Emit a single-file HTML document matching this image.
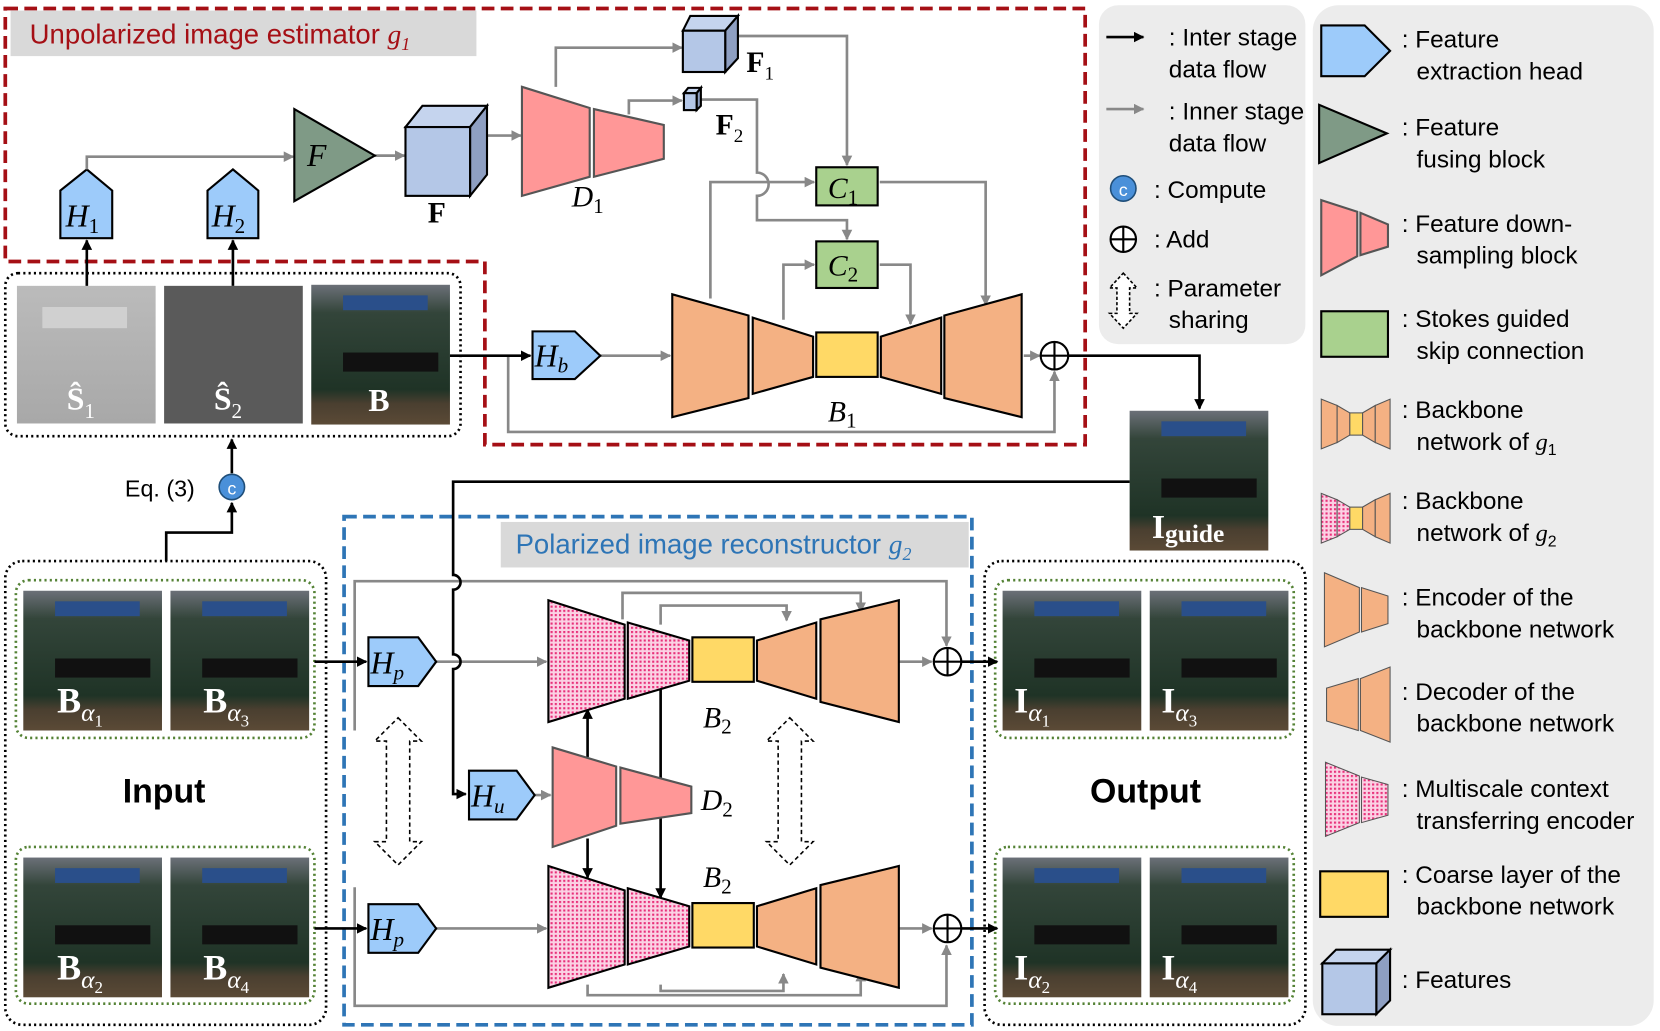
<!DOCTYPE html>
<html><head><meta charset="utf-8"><style>
html,body{margin:0;padding:0;background:#fff;}
svg{display:block;}
.t{font-family:"Liberation Sans",sans-serif;}
.m{font-family:"Liberation Serif",serif;font-style:italic;}
.b{font-family:"Liberation Serif",serif;font-weight:bold;}
</style></head><body>
<svg width="1660" height="1031" viewBox="0 0 1660 1031" xmlns="http://www.w3.org/2000/svg">
<defs>
<marker id="ak" markerWidth="10" markerHeight="10" refX="9" refY="5" orient="auto" markerUnits="userSpaceOnUse"><path d="M0,0 L10,5 L0,10 z" fill="#000"/></marker>
<marker id="ag" markerWidth="10" markerHeight="10" refX="9" refY="5" orient="auto" markerUnits="userSpaceOnUse"><path d="M0,0 L10,5 L0,10 z" fill="#888"/></marker>
<pattern id="dots" width="4" height="4" patternUnits="userSpaceOnUse"><rect width="4" height="4" fill="#fbd2e4"/><rect width="2" height="2" fill="#e8307a"/></pattern>
<linearGradient id="scene" x1="0" y1="0" x2="0" y2="1">
<stop offset="0" stop-color="#6b7078"/><stop offset="0.2" stop-color="#33453a"/><stop offset="0.75" stop-color="#1f3326"/><stop offset="0.85" stop-color="#4a3f30"/><stop offset="1" stop-color="#5b4a36"/></linearGradient>
<linearGradient id="s1" x1="0" y1="0" x2="0" y2="1"><stop offset="0" stop-color="#bbb"/><stop offset="1" stop-color="#a8a8a8"/></linearGradient>
<g id="photo"><rect width="131" height="132" fill="url(#scene)"/><rect x="30" y="10" width="80" height="14" fill="#2a4f8a"/><rect x="30" y="64" width="90" height="18" fill="#111"/></g>
</defs>
<g transform="scale(1.0587)">

<!-- legend backgrounds -->
<rect x="1038" y="5" width="195" height="320" rx="18" fill="#ececec"/>
<rect x="1240" y="5" width="322" height="964" rx="24" fill="#ececec"/>

<!-- g1 red dashed box -->
<path d="M5,8 H1025 V420 H458 V247 H5 Z" fill="none" stroke="#a50f15" stroke-width="3.5" stroke-dasharray="12,6"/>
<rect x="10" y="10" width="440" height="43" fill="#d9d9d9"/>
<text x="28" y="41" class="t" font-size="26" fill="#a50f15">Unpolarized image estimator <tspan class="m">g</tspan><tspan class="m" font-size="17" dy="6">1</tspan></text>

<!-- photos top -->
<rect x="5" y="258" width="430" height="154" rx="12" fill="none" stroke="#000" stroke-width="2.5" stroke-dasharray="2,3"/>
<rect x="16" y="270" width="131" height="130" fill="url(#s1)"/>
<rect x="40" y="290" width="80" height="20" fill="#d0d0d0"/>
<rect x="155" y="270" width="131" height="130" fill="#5a5a5a"/>
<use href="#photo" x="294" y="269"/>
<text x="63" y="387" class="b" font-size="30" fill="#fff">Ŝ<tspan font-size="20" dy="8" font-weight="normal">1</tspan></text>
<text x="202" y="387" class="b" font-size="30" fill="#fff">Ŝ<tspan font-size="20" dy="8" font-weight="normal">2</tspan></text>
<text x="348" y="388" class="b" font-size="30" fill="#fff">B</text>

<!-- H1 H2 -->
<g stroke="#000" stroke-width="2" fill="#9dcbfa">
<polygon points="57,225 57,180 82,160 106,180 106,225"/>
<polygon points="196,225 196,180 220,160 244,180 244,225"/>
</g>
<text x="62" y="214" class="m" font-size="30">H<tspan font-size="20" dy="6" font-style="normal">1</tspan></text>
<text x="200" y="214" class="m" font-size="30">H<tspan font-size="20" dy="6" font-style="normal">2</tspan></text>
<g stroke="#000" stroke-width="2.5" marker-end="url(#ak)"><line x1="82" y1="270" x2="82" y2="227"/><line x1="220" y1="270" x2="220" y2="227"/></g>

<!-- gray flows top -->
<g stroke="#888" stroke-width="2.5" fill="none" marker-end="url(#ag)">
<path d="M82,160 V148 H277"/>
<path d="M354,147 H382"/>
<path d="M460,128 H492"/>
<path d="M525,82 V45 H644"/>
<path d="M594,108 V95 H644"/>
<path d="M567,336 H633"/>
<path d="M967,336 H982"/>
<path d="M480,336 V408 H996 V351"/>
<path d="M685,34 H800 V156"/>
<path d="M662,94 H715 V163 A7,7 0 0 1 715,185 V208 H800 V226"/>
<path d="M671,282 V172 H769"/>
<path d="M740,302 V250 H769"/>
<path d="M831,172 H931 V288"/>
<path d="M831,250 H860 V306"/>
</g>
<polygon points="278,103 278,190 354,147" fill="#7f9a86" stroke="#000" stroke-width="2"/>
<text x="290" y="157" class="m" font-size="30">F</text>
<g stroke="#000" stroke-width="2">
<polygon points="383,120 399,100 460,100 444,120" fill="#c5d4ee"/>
<polygon points="444,120 460,100 460,165 444,185" fill="#8e9fc2"/>
<rect x="383" y="120" width="61" height="65" fill="#b4c7e7"/>
</g>
<text x="404" y="210" class="b" font-size="28">F</text>
<g stroke="#555" stroke-width="2" fill="#ff9797">
<polygon points="493,82 557,102 557,167 493,185"/>
<polygon points="561,103 627,118 627,150 561,167"/>
</g>
<text x="540" y="195" class="m" font-size="28">D<tspan font-size="20" dy="6" font-style="normal">1</tspan></text>
<g stroke="#000" stroke-width="2">
<polygon points="645,29 652,15 697,15 685,29" fill="#c5d4ee"/>
<polygon points="685,29 697,15 697,55 685,68" fill="#8e9fc2"/>
<rect x="645" y="29" width="40" height="39" fill="#b4c7e7"/>
<polygon points="646,88 650,83 662,83 658,88" fill="#c5d4ee"/>
<polygon points="658,88 662,83 662,100 658,104" fill="#8e9fc2"/>
<rect x="646" y="88" width="12" height="16" fill="#b4c7e7"/>
</g>
<text x="705" y="68" class="b" font-size="28">F<tspan font-size="18" dy="7" font-weight="normal">1</tspan></text>
<text x="676" y="127" class="b" font-size="28">F<tspan font-size="18" dy="7" font-weight="normal">2</tspan></text>
<g stroke="#000" stroke-width="2" fill="#a9d18e">
<rect x="771" y="158" width="58" height="36"/>
<rect x="771" y="228" width="58" height="44"/>
</g>
<text x="782" y="187" class="m" font-size="28">C<tspan font-size="20" dy="6" font-style="normal">1</tspan></text>
<text x="782" y="260" class="m" font-size="28">C<tspan font-size="20" dy="6" font-style="normal">2</tspan></text>
<g stroke="#000" stroke-width="2" fill="#f4b183">
<polygon points="635,278 707,298 707,376 635,394"/>
<polygon points="711,300 768,318 768,356 711,372"/>
<polygon points="832,318 889,300 889,372 832,356"/>
<polygon points="892,298 965,278 965,394 892,376"/>
<rect x="771" y="314" width="58" height="42" fill="#ffd966"/>
</g>
<text x="782" y="398" class="m" font-size="28">B<tspan font-size="20" dy="6" font-style="normal">1</tspan></text>
<polygon points="503,313 543,313 567,336 543,358 503,358" fill="#9dcbfa" stroke="#000" stroke-width="2"/>
<text x="505" y="346" class="m" font-size="30">H<tspan font-size="20" dy="6">b</tspan></text>
<line x1="425" y1="336" x2="501" y2="336" stroke="#000" stroke-width="2.5" marker-end="url(#ak)"/>
<circle cx="996" cy="336" r="13" fill="#fff" stroke="#000" stroke-width="2"/>
<path d="M983,336 H1009 M996,323 V349" stroke="#000" stroke-width="2"/>
<path d="M1009,336 H1133 V386" stroke="#000" stroke-width="2.5" fill="none" marker-end="url(#ak)"/>
<use href="#photo" x="1067" y="388"/>
<text x="1088" y="508" class="b" font-size="32" fill="#fff">I<tspan font-size="24" dy="4">guide</tspan></text>

<!-- legend 1 -->
<g class="t" font-size="23" fill="#000">
<text x="1104" y="43">: Inter stage</text><text x="1104" y="73">data flow</text>
<text x="1104" y="113">: Inner stage</text><text x="1104" y="143">data flow</text>
<text x="1090" y="187">: Compute</text>
<text x="1090" y="234">: Add</text>
<text x="1090" y="280">: Parameter</text><text x="1104" y="310">sharing</text>
</g>
<line x1="1045" y1="35" x2="1080" y2="35" stroke="#000" stroke-width="2.5" marker-end="url(#ak)"/>
<line x1="1045" y1="103" x2="1080" y2="103" stroke="#888" stroke-width="2.5" marker-end="url(#ag)"/>
<circle cx="1061" cy="178" r="12" fill="#4a90d9" stroke="#1f4e79" stroke-width="1.5"/>
<text x="1061" y="185" class="t" font-size="17" fill="#fff" text-anchor="middle">c</text>
<circle cx="1061" cy="226" r="12" fill="#fff" stroke="#000" stroke-width="2"/>
<path d="M1049,226 H1073 M1061,214 V238" stroke="#000" stroke-width="2"/>
<path d="M1061,258 L1074,272 H1067 V296 H1074 L1061,310 L1048,296 H1055 V272 H1048 Z" fill="#fff" stroke="#000" stroke-width="1.5" stroke-dasharray="3,2"/>

<!-- legend 2 -->
<g class="t" font-size="23" fill="#000">
<text x="1324" y="45">: Feature</text><text x="1338" y="75">extraction head</text>
<text x="1324" y="128">: Feature</text><text x="1338" y="158">fusing block</text>
<text x="1324" y="219">: Feature down-</text><text x="1338" y="249">sampling block</text>
<text x="1324" y="309">: Stokes guided</text><text x="1338" y="339">skip connection</text>
<text x="1324" y="395">: Backbone</text><text x="1338" y="425">network of <tspan class="m">g</tspan><tspan font-size="15" dy="5">1</tspan></text>
<text x="1324" y="481">: Backbone</text><text x="1338" y="511">network of <tspan class="m">g</tspan><tspan font-size="15" dy="5">2</tspan></text>
<text x="1324" y="572">: Encoder of the</text><text x="1338" y="602">backbone network</text>
<text x="1324" y="661">: Decoder of the</text><text x="1338" y="691">backbone network</text>
<text x="1324" y="753">: Multiscale context</text><text x="1338" y="783">transferring encoder</text>
<text x="1324" y="834">: Coarse layer of the</text><text x="1338" y="864">backbone network</text>
<text x="1324" y="933">: Features</text>
</g>
<polygon points="1248,24 1289,24 1313,48 1289,72 1248,72" fill="#9dcbfa" stroke="#000" stroke-width="2"/>
<polygon points="1246,99 1246,154 1310,126" fill="#7f9a86" stroke="#000" stroke-width="2"/>
<g stroke="#555" stroke-width="2" fill="#ff9797">
<polygon points="1248,189 1282,200 1282,242 1248,260"/>
<polygon points="1285,201 1311,212 1311,233 1285,241"/>
</g>
<rect x="1248" y="294" width="63" height="43" fill="#a9d18e" stroke="#000" stroke-width="2"/>
<g stroke="#555" stroke-width="1" fill="#f4b183">
<polygon points="1248,377 1263,383 1263,418 1248,424"/><polygon points="1263,383 1275,390 1275,411 1263,418"/>
<polygon points="1287,390 1299,383 1299,418 1287,411"/><polygon points="1299,383 1313,377 1313,424 1299,418"/>
<rect x="1275" y="390" width="12" height="21" fill="#ffd966"/>
<polygon points="1248,466 1263,472 1263,507 1248,513" fill="url(#dots)"/><polygon points="1263,472 1275,479 1275,500 1263,507" fill="url(#dots)"/>
<polygon points="1287,479 1299,472 1299,507 1287,500"/><polygon points="1299,472 1313,466 1313,513 1299,507"/>
<rect x="1275" y="479" width="12" height="21" fill="#ffd966"/>
<polygon points="1251,541 1284,555 1284,597 1251,611"/><polygon points="1286,555 1311,563 1311,589 1286,597"/>
<polygon points="1253,650 1283,641 1283,690 1253,681"/><polygon points="1285,641 1313,630 1313,701 1285,690"/>
<polygon points="1252,720 1284,733 1284,777 1252,790" fill="url(#dots)"/><polygon points="1286,734 1311,741 1311,770 1286,777" fill="url(#dots)"/>
</g>
<rect x="1247" y="823" width="64" height="43" fill="#ffd966" stroke="#000" stroke-width="2"/>
<g stroke="#000" stroke-width="2">
<polygon points="1249,910 1262,897 1313,897 1300,910" fill="#c5d4ee"/>
<polygon points="1300,910 1313,897 1313,945 1300,958" fill="#8e9fc2"/>
<rect x="1249" y="910" width="51" height="48" fill="#b4c7e7"/>
</g>

<!-- Input -->
<rect x="5" y="530" width="303" height="438" rx="16" fill="none" stroke="#000" stroke-width="2.5" stroke-dasharray="2,3"/>
<rect x="15" y="548" width="282" height="149" rx="12" fill="none" stroke="#548235" stroke-width="2.5" stroke-dasharray="2,3"/>
<rect x="15" y="800" width="282" height="148" rx="12" fill="none" stroke="#548235" stroke-width="2.5" stroke-dasharray="2,3"/>
<use href="#photo" x="22" y="558"/><use href="#photo" x="161" y="558"/>
<use href="#photo" x="22" y="810"/><use href="#photo" x="161" y="810"/>
<g class="b" font-size="34" fill="#fff">
<text x="54" y="673">B<tspan class="m" font-size="24" dy="8" font-weight="normal">α</tspan><tspan font-size="16" dy="5" font-weight="normal">1</tspan></text>
<text x="192" y="673">B<tspan class="m" font-size="24" dy="8" font-weight="normal">α</tspan><tspan font-size="16" dy="5" font-weight="normal">3</tspan></text>
<text x="54" y="925">B<tspan class="m" font-size="24" dy="8" font-weight="normal">α</tspan><tspan font-size="16" dy="5" font-weight="normal">2</tspan></text>
<text x="192" y="925">B<tspan class="m" font-size="24" dy="8" font-weight="normal">α</tspan><tspan font-size="16" dy="5" font-weight="normal">4</tspan></text>
</g>
<text x="155" y="758" class="t" font-size="32" font-weight="bold" text-anchor="middle">Input</text>
<text x="1082" y="758" class="t" font-size="32" font-weight="bold" text-anchor="middle">Output</text>
<text x="118" y="469" class="t" font-size="22">Eq. (3)</text>
<circle cx="219" cy="460" r="12" fill="#4a90d9" stroke="#1f4e79" stroke-width="1.5"/>
<text x="219" y="467" class="t" font-size="17" fill="#fff" text-anchor="middle">c</text>
<path d="M157,530 V503 H219 V475" stroke="#000" stroke-width="2.5" fill="none" marker-end="url(#ak)"/>
<line x1="219" y1="447" x2="219" y2="415" stroke="#000" stroke-width="2.5" marker-end="url(#ak)"/>

<!-- Output box -->
<rect x="930" y="530" width="303" height="438" rx="16" fill="none" stroke="#000" stroke-width="2.5" stroke-dasharray="2,3"/>
<rect x="940" y="548" width="282" height="149" rx="12" fill="none" stroke="#548235" stroke-width="2.5" stroke-dasharray="2,3"/>
<rect x="940" y="800" width="282" height="148" rx="12" fill="none" stroke="#548235" stroke-width="2.5" stroke-dasharray="2,3"/>

<!-- g2 blue box -->
<rect x="325" y="488" width="593" height="480" fill="none" stroke="#2e75b6" stroke-width="3.5" stroke-dasharray="12,6"/>
<rect x="473" y="493" width="442" height="43" fill="#d9d9d9"/>
<text x="487" y="523" class="t" font-size="26" fill="#2e75b6">Polarized image reconstructor <tspan class="m">g</tspan><tspan class="m" font-size="17" dy="6">2</tspan></text>

<g stroke="#888" stroke-width="2.5" fill="none" marker-end="url(#ag)">
<path d="M335,690 V549 H894 V610"/>
<path d="M412,625 H516"/>
<path d="M849,625 H880"/>
<path d="M588,585 V560 H813 V578"/>
<path d="M624,590 V572 H743 V586"/>
<path d="M505,751 H520"/>
<path d="M412,877 H516"/>
<path d="M849,877 H880"/>
<path d="M335,838 V950 H894 V893"/>
<path d="M555,930 V940 H813 V918"/>
<path d="M624,930 V936 H740 V920"/>
</g>
<g stroke="#000" stroke-width="2.5" fill="none">
<path d="M1067,455 H428 V543 A7,7 0 0 1 428,557 V618 A7,7 0 0 1 428,632 V750 H440" marker-end="url(#ak)"/>
<path d="M297,625 H346" marker-end="url(#ak)"/>
<path d="M297,877 H346" marker-end="url(#ak)"/>
<path d="M555,715 V670" marker-end="url(#ak)"/>
<path d="M624,745 V633" marker-end="url(#ak)"/>
<path d="M555,792 V829" marker-end="url(#ak)"/>
<path d="M624,762 V848" marker-end="url(#ak)"/>
<path d="M908,625 H942" marker-end="url(#ak)"/>
<path d="M908,877 H942" marker-end="url(#ak)"/>
</g>
<use href="#photo" x="947" y="558"/><use href="#photo" x="1086" y="558"/>
<use href="#photo" x="947" y="810"/><use href="#photo" x="1086" y="810"/>
<g class="b" font-size="34" fill="#fff">
<text x="958" y="673">I<tspan class="m" font-size="24" dy="8" font-weight="normal">α</tspan><tspan font-size="16" dy="5" font-weight="normal">1</tspan></text>
<text x="1097" y="673">I<tspan class="m" font-size="24" dy="8" font-weight="normal">α</tspan><tspan font-size="16" dy="5" font-weight="normal">3</tspan></text>
<text x="958" y="925">I<tspan class="m" font-size="24" dy="8" font-weight="normal">α</tspan><tspan font-size="16" dy="5" font-weight="normal">2</tspan></text>
<text x="1097" y="925">I<tspan class="m" font-size="24" dy="8" font-weight="normal">α</tspan><tspan font-size="16" dy="5" font-weight="normal">4</tspan></text>
</g>

<g stroke="#000" stroke-width="2" fill="#9dcbfa">
<polygon points="348,602 395,602 412,625 395,648 348,648"/>
<polygon points="348,854 395,854 412,877 395,900 348,900"/>
<polygon points="443,728 488,728 505,751 488,774 443,774"/>
</g>
<text x="350" y="636" class="m" font-size="30">H<tspan font-size="20" dy="6">p</tspan></text>
<text x="350" y="888" class="m" font-size="30">H<tspan font-size="20" dy="6">p</tspan></text>
<text x="445" y="762" class="m" font-size="30">H<tspan font-size="20" dy="6">u</tspan></text>

<g stroke="#000" stroke-width="2">
<polygon points="518,567 590,590 590,660 518,682" fill="url(#dots)"/>
<polygon points="593,588 651,605 651,643 593,660" fill="url(#dots)"/>
<rect x="654" y="602" width="58" height="42" fill="#ffd966"/>
<polygon points="715,605 771,588 771,660 715,643" fill="#f4b183"/>
<polygon points="775,585 849,567 849,682 775,663" fill="#f4b183"/>
</g>
<g stroke="#000" stroke-width="2" transform="translate(0,251)">
<polygon points="518,567 590,590 590,660 518,682" fill="url(#dots)"/>
<polygon points="593,588 651,605 651,643 593,660" fill="url(#dots)"/>
<rect x="654" y="602" width="58" height="42" fill="#ffd966"/>
<polygon points="715,605 771,588 771,660 715,643" fill="#f4b183"/>
<polygon points="775,585 849,567 849,682 775,663" fill="#f4b183"/>
</g>
<g stroke="#555" stroke-width="2" fill="#ff9797">
<polygon points="522,706 582,724 582,780 522,800"/>
<polygon points="586,725 653,743 653,768 586,778"/>
</g>
<text x="664" y="687" class="m" font-size="28">B<tspan font-size="20" dy="6" font-style="normal">2</tspan></text>
<text x="664" y="838" class="m" font-size="28">B<tspan font-size="20" dy="6" font-style="normal">2</tspan></text>
<text x="662" y="765" class="m" font-size="28">D<tspan font-size="20" dy="6" font-style="normal">2</tspan></text>
<g stroke="#000" stroke-width="2" fill="#fff">
<circle cx="895" cy="625" r="13"/><circle cx="895" cy="877" r="13"/>
<path d="M882,625 H908 M895,612 V638 M882,877 H908 M895,864 V890" fill="none"/>
</g>
<g fill="#fff" stroke="#000" stroke-width="1.5" stroke-dasharray="4,3">
<path d="M376,678 L398,700 H387 V795 H398 L376,817 L354,795 H365 V700 H354 Z"/>
<path d="M746,678 L768,700 H757 V795 H768 L746,817 L724,795 H735 V700 H724 Z"/>
</g>
</g>
</svg>
</body></html>
